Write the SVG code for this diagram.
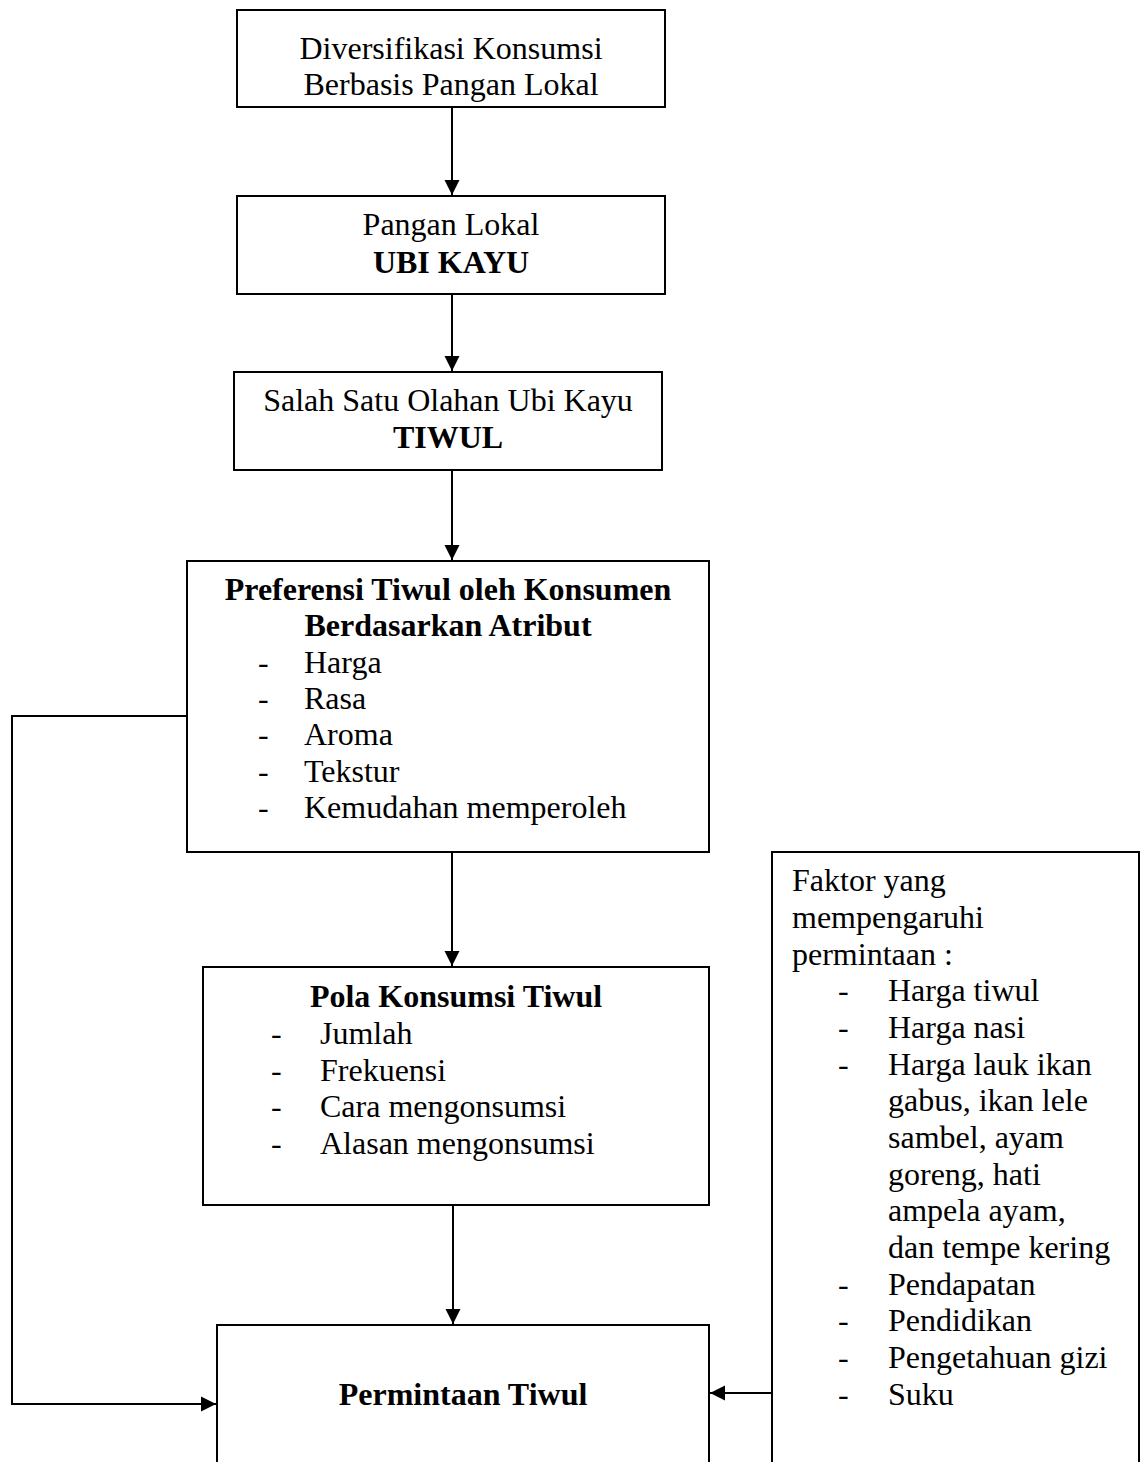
<svg xmlns="http://www.w3.org/2000/svg" width="1143" height="1462" viewBox="0 0 1143 1462">
<style>
  .box { fill: #ffffff; stroke: #000000; stroke-width: 2; }
  .t { font-family: "Liberation Serif", "Times New Roman", serif; font-size: 32px; fill: #000000; }
  .c { text-anchor: middle; }
  .b { font-weight: bold; }
  .conn { fill: none; stroke: #000000; stroke-width: 2; }
</style>
<defs>
  <marker id="arrow" markerUnits="userSpaceOnUse" markerWidth="16" markerHeight="16" viewBox="0 0 16 16" refX="15" refY="8" orient="auto">
    <path d="M0,0.5 L15,8 L0,15.5 Z" fill="#000000"/>
  </marker>
</defs>
<rect width="1143" height="1462" fill="#ffffff"/>

<g id="connectors">
  <line class="conn" x1="452" y1="107" x2="452" y2="195" marker-end="url(#arrow)"/>
  <line class="conn" x1="452" y1="294" x2="452" y2="371" marker-end="url(#arrow)"/>
  <line class="conn" x1="452" y1="470" x2="452" y2="560" marker-end="url(#arrow)"/>
  <line class="conn" x1="452" y1="852" x2="452" y2="966" marker-end="url(#arrow)"/>
  <line class="conn" x1="453" y1="1205" x2="453" y2="1324" marker-end="url(#arrow)"/>
  <polyline class="conn" points="187,716 12,716 12,1404 216,1404" marker-end="url(#arrow)"/>
  <line class="conn" x1="772" y1="1393" x2="710" y2="1393" marker-end="url(#arrow)"/>
</g>

<g id="node-diversifikasi">
  <rect class="box" x="237" y="10" width="428" height="97"/>
  <text class="t c" x="451" y="59">Diversifikasi Konsumsi</text>
  <text class="t c" x="451" y="95">Berbasis Pangan Lokal</text>
</g>

<g id="node-pangan-lokal">
  <rect class="box" x="237" y="196" width="428" height="98"/>
  <text class="t c" x="451" y="235">Pangan Lokal</text>
  <text class="t c b" x="451" y="273">UBI KAYU</text>
</g>

<g id="node-tiwul">
  <rect class="box" x="234" y="372" width="428" height="98"/>
  <text class="t c" x="448" y="411">Salah Satu Olahan Ubi Kayu</text>
  <text class="t c b" x="448" y="448">TIWUL</text>
</g>

<g id="node-preferensi">
  <rect class="box" x="187" y="561" width="522" height="291"/>
  <text class="t c b" x="448" y="600">Preferensi Tiwul oleh Konsumen</text>
  <text class="t c b" x="448" y="636">Berdasarkan Atribut</text>
  <text class="t" x="258" y="673">-</text><text class="t" x="304" y="673">Harga</text>
  <text class="t" x="258" y="709">-</text><text class="t" x="304" y="709">Rasa</text>
  <text class="t" x="258" y="745">-</text><text class="t" x="304" y="745">Aroma</text>
  <text class="t" x="258" y="782">-</text><text class="t" x="304" y="782">Tekstur</text>
  <text class="t" x="258" y="818">-</text><text class="t" x="304" y="818">Kemudahan memperoleh</text>
</g>

<g id="node-pola">
  <rect class="box" x="203" y="967" width="506" height="238"/>
  <text class="t c b" x="456" y="1007">Pola Konsumsi Tiwul</text>
  <text class="t" x="271" y="1044">-</text><text class="t" x="320" y="1044">Jumlah</text>
  <text class="t" x="271" y="1081">-</text><text class="t" x="320" y="1081">Frekuensi</text>
  <text class="t" x="271" y="1117">-</text><text class="t" x="320" y="1117">Cara mengonsumsi</text>
  <text class="t" x="271" y="1154">-</text><text class="t" x="320" y="1154">Alasan mengonsumsi</text>
</g>

<g id="node-permintaan">
  <rect class="box" x="217" y="1325" width="492" height="150"/>
  <text class="t c b" x="463" y="1405">Permintaan Tiwul</text>
</g>

<g id="node-faktor">
  <rect class="box" x="772" y="852" width="367" height="620"/>
  <text class="t" x="792" y="891">Faktor yang</text>
  <text class="t" x="792" y="928">mempengaruhi</text>
  <text class="t" x="792" y="965">permintaan :</text>
  <text class="t" x="838" y="1001">-</text><text class="t" x="888" y="1001">Harga tiwul</text>
  <text class="t" x="838" y="1038">-</text><text class="t" x="888" y="1038">Harga nasi</text>
  <text class="t" x="838" y="1075">-</text><text class="t" x="888" y="1075">Harga lauk ikan</text>
  <text class="t" x="888" y="1111">gabus, ikan lele</text>
  <text class="t" x="888" y="1148">sambel, ayam</text>
  <text class="t" x="888" y="1185">goreng, hati</text>
  <text class="t" x="888" y="1221">ampela ayam,</text>
  <text class="t" x="888" y="1258">dan tempe kering</text>
  <text class="t" x="838" y="1295">-</text><text class="t" x="888" y="1295">Pendapatan</text>
  <text class="t" x="838" y="1331">-</text><text class="t" x="888" y="1331">Pendidikan</text>
  <text class="t" x="838" y="1368">-</text><text class="t" x="888" y="1368">Pengetahuan gizi</text>
  <text class="t" x="838" y="1405">-</text><text class="t" x="888" y="1405">Suku</text>
</g>
</svg>
